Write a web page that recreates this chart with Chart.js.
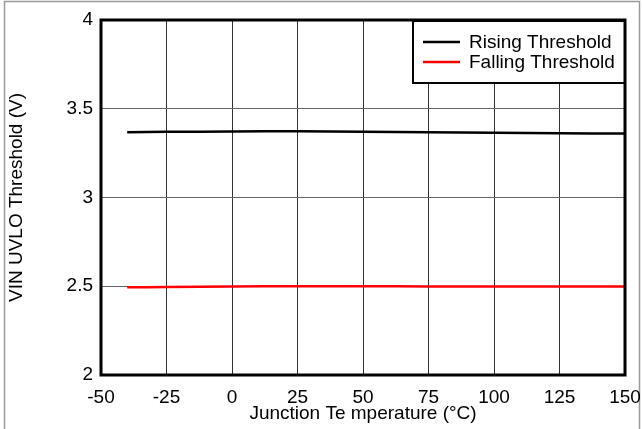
<!DOCTYPE html>
<html>
<head>
<meta charset="utf-8">
<script src="https://cdn.jsdelivr.net/npm/chart.js@4.4.0/dist/chart.umd.min.js"></script>
<style>
html,body{margin:0;padding:0;background:#fff;}
#wrap{width:642px;height:429px;position:relative;}
</style>
</head>
<body>
<div id="wrap"><canvas id="c" width="642" height="429"></canvas></div>
<script>
const temps = [-40, -25, 0, 25, 50, 75, 100, 125, 150];
const rising = [3.368, 3.370, 3.372, 3.373, 3.371, 3.368, 3.365, 3.362, 3.360];
const falling = [2.494, 2.496, 2.499, 2.500, 2.500, 2.499, 2.499, 2.498, 2.498];
const xTicks = [-50, -25, 0, 25, 50, 75, 100, 125, 150];
const yTicks = [2, 2.5, 3, 3.5, 4];
const yTickLabels = ['2', '2.5', '3', '3.5', '4'];
const seriesNames = ['Rising Threshold', 'Falling Threshold'];
const seriesColors = ['#000000', '#ff0000'];
const xTitle = 'Junction Te mperature (°C)';
const yTitle = 'VIN UVLO Threshold (V)';

const FONT = 'Arial, "Liberation Sans", sans-serif';
const FS = 19;

const framePlugin = {
  id: 'frame',
  beforeDraw(chart) {
    const ctx = chart.ctx;
    ctx.save();
    ctx.fillStyle = '#fff';
    ctx.fillRect(0, 0, chart.width, chart.height);
    ctx.strokeStyle = '#9a9a9a';
    ctx.lineWidth = 1.5;
    ctx.strokeRect(4.5, 1.5, 635, 500);
    ctx.restore();
  },
  afterDraw(chart) {
    const ctx = chart.ctx;
    const a = chart.chartArea;
    ctx.save();
    const lx = 413, ly = 21, lw = a.right - 413, lh = 62;
    ctx.fillStyle = '#fff';
    ctx.fillRect(lx, ly, lw, lh);
    ctx.strokeStyle = '#000';
    ctx.lineWidth = 2;
    ctx.strokeRect(lx, ly, lw, lh);
    ctx.font = FS + 'px ' + FONT;
    ctx.textBaseline = 'middle';
    ctx.textAlign = 'left';
    const rows = [42, 62];
    seriesNames.forEach((n, i) => {
      ctx.strokeStyle = seriesColors[i];
      ctx.lineWidth = 2.5;
      ctx.beginPath();
      ctx.moveTo(423, rows[i]);
      ctx.lineTo(460, rows[i]);
      ctx.stroke();
      ctx.fillStyle = '#000';
      ctx.fillText(n, 469, rows[i] + 1);
    });
    ctx.strokeStyle = '#000';
    ctx.lineWidth = 3;
    ctx.strokeRect(a.left, a.top, a.right - a.left, a.bottom - a.top);
    ctx.restore();
  }
};

new Chart(document.getElementById('c'), {
  type: 'line',
  data: {
    datasets: [
      { label: seriesNames[0], data: temps.map((t, i) => ({x: t, y: rising[i]})),
        borderColor: seriesColors[0], borderWidth: 2.5, pointRadius: 0, tension: 0.3, fill: false },
      { label: seriesNames[1], data: temps.map((t, i) => ({x: t, y: falling[i]})),
        borderColor: seriesColors[1], borderWidth: 2.5, pointRadius: 0, tension: 0.3, fill: false }
    ]
  },
  options: {
    responsive: false,
    animation: false,
    devicePixelRatio: 1,
    layout: { padding: { left: 0, right: 17, top: 20, bottom: 0 } },
    plugins: { legend: { display: false }, tooltip: { enabled: false } },
    scales: {
      x: {
        type: 'linear', min: -50, max: 150,
        afterBuildTicks: s => { s.ticks = xTicks.map(v => ({value: v})); },
        afterFit: s => { s.height = 54; s.paddingLeft = 0; s.paddingRight = 0; },
        grid: { color: '#333', lineWidth: 1, drawTicks: false },
        border: { display: false },
        ticks: { color: '#000', font: { size: FS, family: FONT }, padding: 11, maxRotation: 0, autoSkip: false },
        title: { display: true, text: xTitle, color: '#000', font: { size: FS, family: FONT }, padding: { top: 0, bottom: 4 } }
      },
      y: {
        type: 'linear', min: 2, max: 4,
        afterBuildTicks: s => { s.ticks = yTicks.map(v => ({value: v})); },
        afterFit: s => { s.width = 101; s.paddingTop = 0; s.paddingBottom = 0; },
        grid: { color: '#666', lineWidth: 1, drawTicks: false },
        border: { display: false },
        ticks: { color: '#000', font: { size: FS, family: FONT }, padding: 8, autoSkip: false,
          callback: (v) => { const i = yTicks.indexOf(v); return i >= 0 ? yTickLabels[i] : ''; } },
        title: { display: true, text: yTitle, color: '#000', font: { size: FS, family: FONT }, padding: { top: 5, bottom: 0 } }
      }
    }
  },
  plugins: [framePlugin]
});
</script>
</body>
</html>
